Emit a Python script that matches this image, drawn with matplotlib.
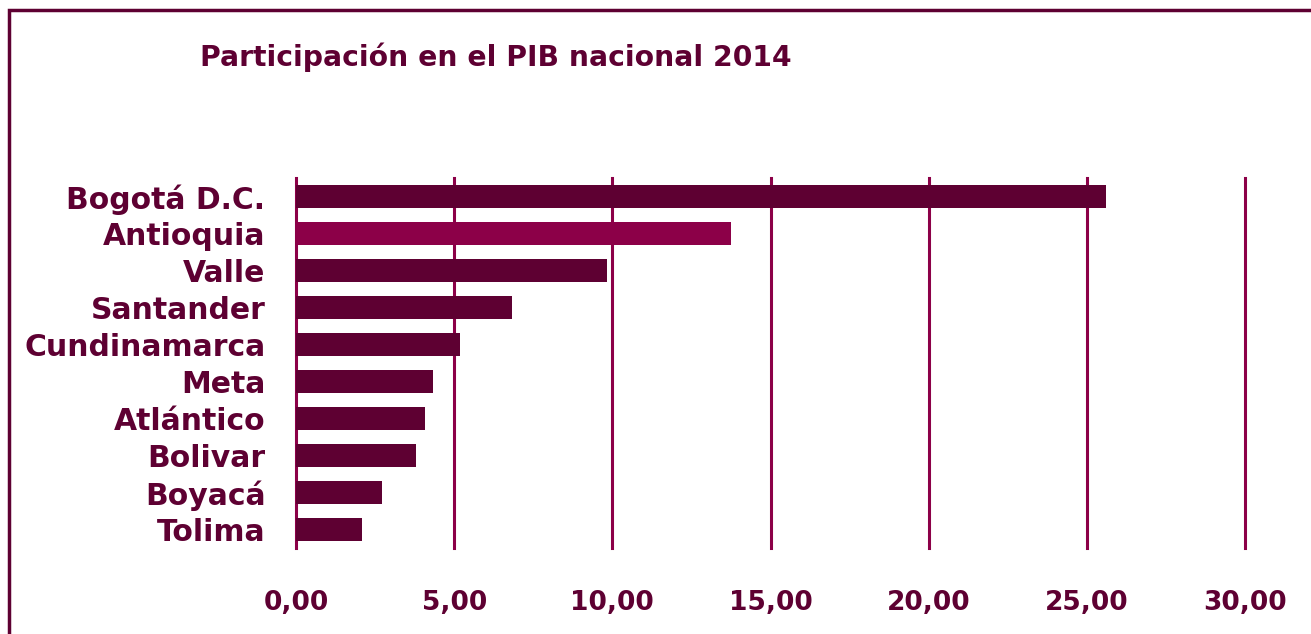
import matplotlib.pyplot as plt
from matplotlib.patches import Rectangle

# Participacion en el PIB nacional 2014
departamentos = ['Bogotá D.C.', 'Antioquia', 'Valle', 'Santander', 'Cundinamarca',
                 'Meta', 'Atlántico', 'Bolivar', 'Boyacá', 'Tolima']
participacion = [25.6, 13.75, 9.83, 6.83, 5.18, 4.33, 4.08, 3.79, 2.72, 2.09]
ticks = [0, 5, 10, 15, 20, 25, 30]
tick_labels = ['0,00', '5,00', '10,00', '15,00', '20,00', '25,00', '30,00']

dark = '#5E0032'
bright = '#8C0048'

plt.rcParams['font.family'] = ['DejaVu Sans']
plt.rcParams['font.weight'] = 'bold'

fig = plt.figure(figsize=(13.11, 6.34), dpi=100)
ax = fig.add_axes([296/1311, 1 - 548/634, 949/1311, 370/634])

colors = [bright if d == 'Antioquia' else dark for d in departamentos]
ax.barh(range(len(departamentos)), participacion, height=0.6, color=colors, zorder=3)

ax.set_xlim(0, 30)
ax.set_ylim(len(departamentos) - 0.5, -0.5)
ax.set_xticks(ticks)
ax.set_xticklabels(tick_labels)
ax.set_yticks(range(len(departamentos)))
ax.set_yticklabels(departamentos)
ax.tick_params(axis='x', length=0, pad=30, labelsize=19, labelcolor=dark)
ax.tick_params(axis='y', length=0, pad=22, labelsize=21.5, labelcolor=dark)
for t in ax.get_xticklabels() + ax.get_yticklabels():
    t.set_fontweight('bold')

ax.grid(axis='x', color=bright, linewidth=2.2, zorder=1)
ax.grid(axis='y', visible=False)
for gl in ax.get_xgridlines():
    gl.set_clip_on(False)
for s in ax.spines.values():
    s.set_visible(False)

fig.text(200/1311, 1 - 57/634, 'Participación en el PIB nacional 2014',
         fontsize=20.3, fontweight='bold', color=dark, va='center', ha='left')

# outer frame (runs off the right/bottom of the image)
fig.patches.append(Rectangle((9/1311, -0.2), 1.5, 1.2 - 10/634, transform=fig.transFigure,
                             fill=False, edgecolor=dark, linewidth=2.5, clip_on=False))

fig.savefig('out.png', dpi=100)
